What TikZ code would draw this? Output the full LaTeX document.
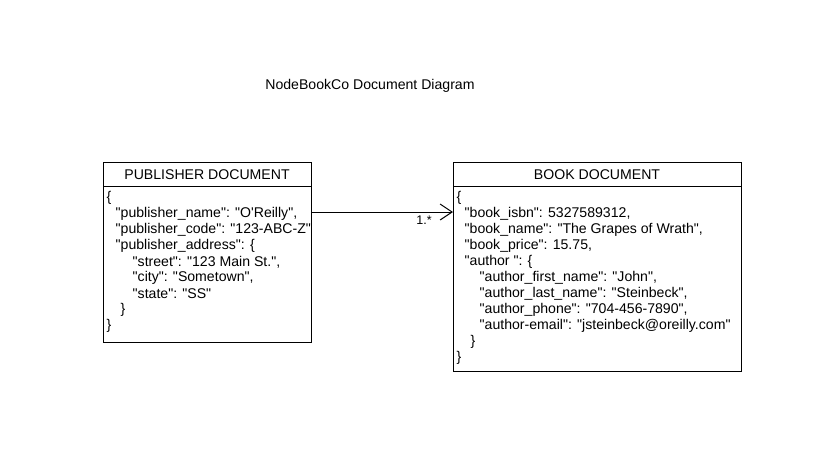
\documentclass[tikz,border=0pt]{standalone}
\usepackage{fontspec}
\setmainfont{Liberation Sans}[Ligatures=TeXOff]
\usetikzlibrary{arrows.meta}
\begin{document}
\begin{tikzpicture}[x=1pt,y=-1pt,
  box/.style={draw=black,line width=1pt,fill=white,inner sep=0pt,anchor=north west},
  txt/.style={font=\fontsize{14.1}{16}\selectfont,inner sep=0pt,anchor=west},
  hdr/.style={font=\fontsize{14.1}{16}\selectfont,inner sep=0pt}]
\useasboundingbox[fill=white] (0,0) rectangle (816,456);
\node[hdr] (title) at (370,86) {NodeBookCo Document Diagram};
% publisher
\node[box,minimum width=208pt,minimum height=24pt] (pubhead) at (103,162) {};
\node[box,minimum width=208pt,minimum height=156pt] (pubbody) at (103,186) {};
\node[hdr] (pubtitle) at (207,174.5) {PUBLISHER DOCUMENT};
\node[txt] (p0) at (106.5,198) {\{};
\node[txt] (p1) at (115.5,214) {"publisher\_name": "O'Reilly",};
\node[txt] (p2) at (115.5,230) {"publisher\_code": "123-ABC-Z"};
\node[txt] (p3) at (115.5,246) {"publisher\_address": \{};
\node[txt] (p4) at (132.5,262) {"street": "123 Main St.",};
\node[txt] (p5) at (132.5,278) {"city": "Sometown",};
\node[txt] (p6) at (132.5,294) {"state": "SS"};
\node[txt] (p7) at (120.5,310) {\}};
\node[txt] (p8) at (106.5,326) {\}};
% book
\node[box,minimum width=288pt,minimum height=24pt] (bookhead) at (453,162) {};
\node[box,minimum width=288pt,minimum height=185pt] (bookbody) at (453,186) {};
\node[hdr] (booktitle) at (597,174.5) {BOOK DOCUMENT};
\node[txt] (b0) at (456.5,198) {\{};
\node[txt] (b1) at (464.5,214) {"book\_isbn": 5327589312,};
\node[txt] (b2) at (464.5,230) {"book\_name": "The Grapes of Wrath",};
\node[txt] (b3) at (464.5,246) {"book\_price": 15.75,};
\node[txt] (b4) at (464.5,262) {"author ": \{};
\node[txt] (b5) at (479.5,278) {"author\_first\_name": "John",};
\node[txt] (b6) at (479.5,294) {"author\_last\_name": "Steinbeck",};
\node[txt] (b7) at (479.5,310) {"author\_phone": "704-456-7890",};
\node[txt] (b8) at (479.5,326) {"author-email": "jsteinbeck@oreilly.com"};
\node[txt] (b9) at (470.5,342) {\}};
\node[txt] (b10) at (456.5,358) {\}};
% connector
\coordinate (ay) at (0,212);
\draw[line width=1pt,-{Straight Barb[length=12pt,width=16pt]}] (pubbody.east |- ay) -- (bookbody.west |- ay);
\node[hdr,font=\fontsize{12.5}{14}\selectfont] (mult) at (424,220) {1.*};
\end{tikzpicture}
\end{document}
